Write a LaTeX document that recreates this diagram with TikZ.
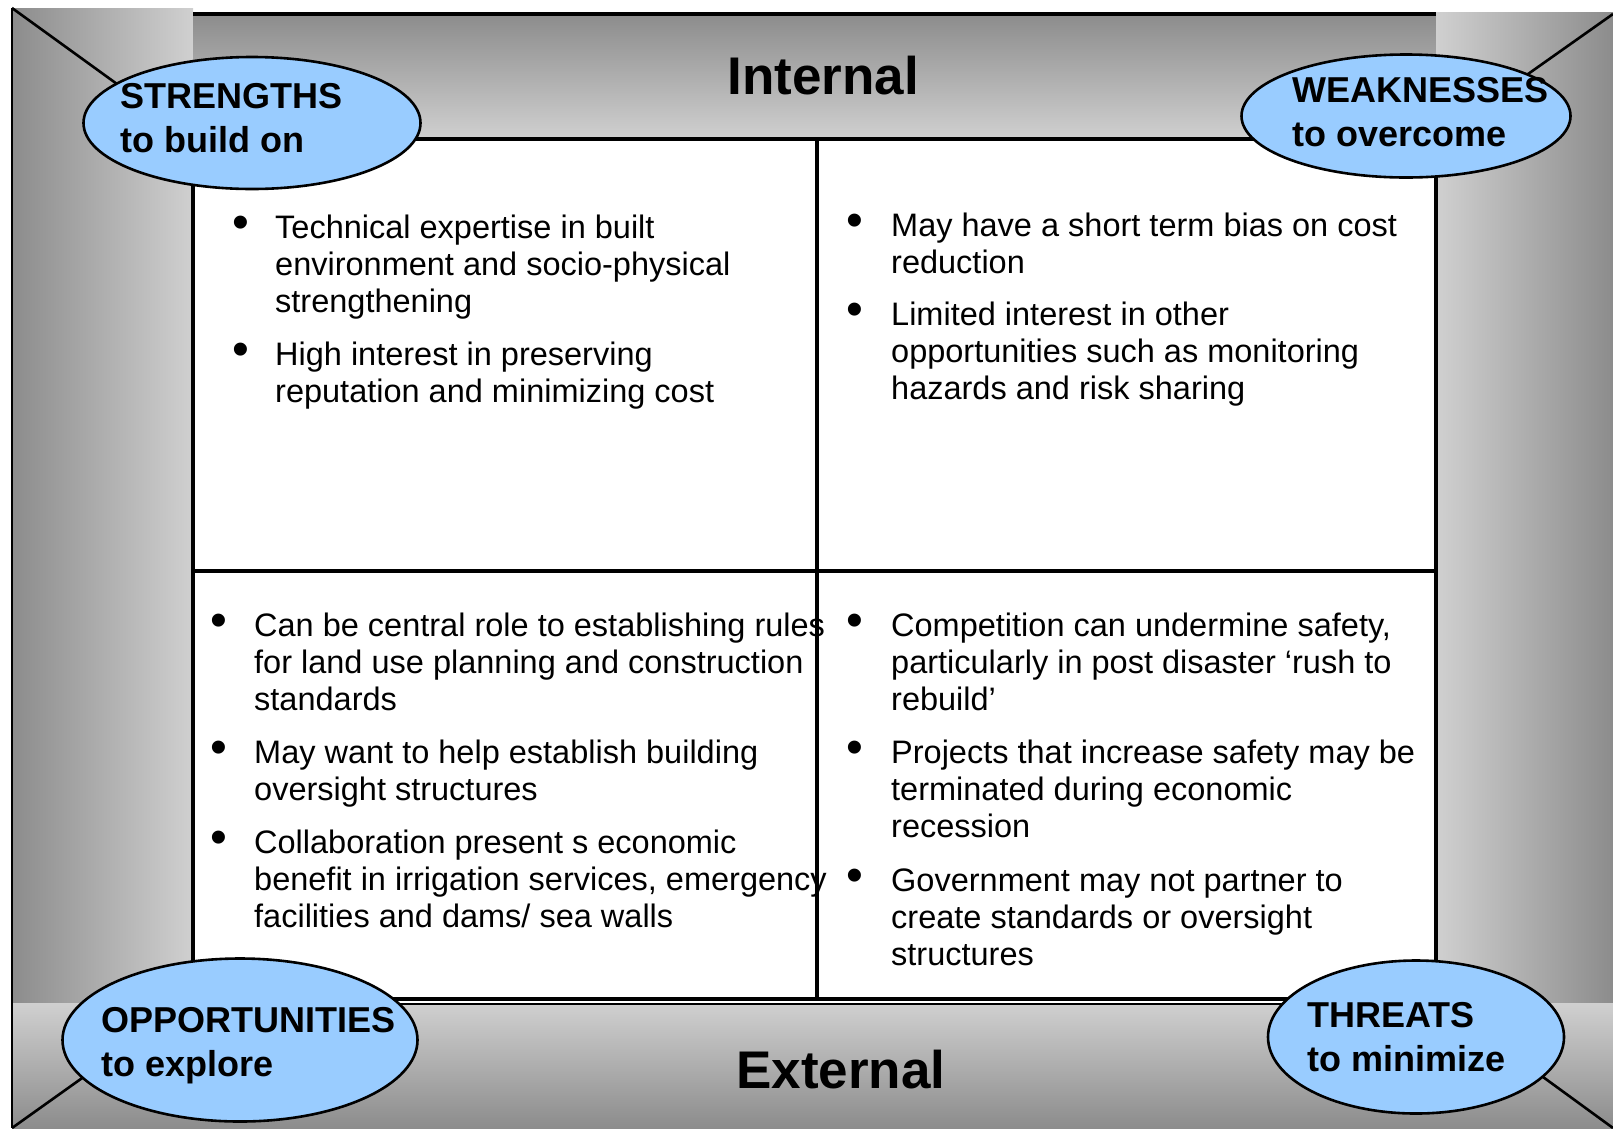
\documentclass[tikz,border=0pt]{standalone}
\usepackage{fontspec}
\setmainfont{Liberation Sans}
\usetikzlibrary{shapes.geometric}
\definecolor{pdark}{HTML}{8C8C8C}
\definecolor{plight}{HTML}{D0D0D0}
\definecolor{ovalblue}{HTML}{99CCFF}
\tikzset{
  bodytext/.style={anchor=base west, inner sep=0pt, font=\fontsize{32.5}{37.3}\selectfont},
  bulletdot/.style={anchor=base, inner sep=0pt, font=\fontsize{48}{50}\selectfont},
  labeltext/.style={anchor=base west, inner sep=0pt, font=\fontsize{36}{44}\selectfont\bfseries},
  ovalshape/.style={ellipse, draw=black, line width=2.6pt, fill=ovalblue, inner sep=0pt},
  headtext/.style={anchor=base, inner sep=0pt, font=\fontsize{53}{60}\selectfont\bfseries},
  rim/.style={line width=3.4pt, draw=black},
}
\newcommand{\lines}[1]{\parbox[t]{700pt}{\raggedright #1}}
\begin{document}
\begin{tikzpicture}[x=1pt,y=-1pt]
\useasboundingbox (0,0) rectangle (1613,1128);
% frame panels
\shade[left color=pdark, right color=plight] (12,8) rectangle (193,1003);
\shade[top color=pdark, bottom color=plight] (193,14) rectangle (1436,139);
\shade[left color=plight, right color=pdark] (1436,12) rectangle (1613,1003);
\shade[top color=plight, bottom color=pdark] (12,1003) rectangle (1613,1128);
% corner coordinates
\coordinate (otl) at (12,8);
\coordinate (otr) at (1613,14);
\coordinate (obl) at (12,1128);
\coordinate (obr) at (1613,1128);
\coordinate (itl) at (193,139);
\coordinate (itr) at (1436,139);
\coordinate (ibl) at (193,999);
\coordinate (ibr) at (1436,999);
\coordinate (ttl) at (193,14);
\coordinate (ttr) at (1436,14);
\coordinate (mt) at (817,139);
\coordinate (mb) at (817,999);
\coordinate (ml) at (193,571);
\coordinate (mr) at (1436,571);
\coordinate (dbl) at (193,1003.5);
\coordinate (dbr) at (1436,1003.5);
% borders
\draw[rim, line width=2.4pt] (otl) -- (obl);
\draw[rim] (ttl) -- (ttr);
\draw[rim, fill=white] (itl) rectangle (ibr);
\draw[rim, line width=2pt] (dbl) -- (dbr);
\draw[rim] (mt) -- (mb);
\draw[rim] (ml) -- (mr);
% diagonals
\draw[rim, line width=2.6pt] (otl) -- (itl);
\draw[rim, line width=2.6pt] (otr) -- (itr);
\draw[rim, line width=2.6pt] (obl) -- (ibl);
\draw[rim, line width=2.6pt] (obr) -- (ibr);
% headings
\node[headtext] (internal) at (823,94) {Internal};
\node[headtext] (external) at (841,1088) {External};
% ovals
\node[ovalshape, minimum width=337pt, minimum height=132pt] (sov) at (252,123) {};
\node[ovalshape, minimum width=329pt, minimum height=123pt] (wov) at (1406,116) {};
\node[ovalshape, minimum width=355pt, minimum height=163pt] (oov) at (240,1040) {};
\node[ovalshape, minimum width=296pt, minimum height=153pt] (tov) at (1416,1037) {};
\node[labeltext] (slab) at (120,108) {\lines{STRENGTHS\\to build on}};
\node[labeltext] (wlab) at (1292,102) {\lines{WEAKNESSES\\to overcome}};
\node[labeltext] (olab) at (101,1032) {\lines{OPPORTUNITIES\\to explore}};
\node[labeltext] (tlab) at (1307,1027) {\lines{THREATS\\to minimize}};
% strengths
\node[bulletdot] (sb1) at (240.7,238) {•};
\node[bodytext] (st1) at (275,238) {\lines{Technical expertise in built\\environment and socio-physical\\strengthening}};
\node[bulletdot] (sb2) at (240.7,365) {•};
\node[bodytext] (st2) at (275,365) {\lines{High interest in preserving\\reputation and minimizing cost}};
% weaknesses
\node[bulletdot] (wb1) at (855,236) {•};
\node[bodytext] (wt1) at (891,236) {\lines{May have a short term bias on cost\\reduction}};
\node[bulletdot] (wb2) at (855,325) {•};
\node[bodytext] (wt2) at (891,325) {\lines{Limited interest in other\\opportunities such as monitoring\\hazards and risk sharing}};
% opportunities
\node[bulletdot] (ob1) at (219,636) {•};
\node[bodytext] (ot1) at (254,636) {\lines{Can be central role to establishing rules\\for land use planning and construction\\standards}};
\node[bulletdot] (ob2) at (219,763) {•};
\node[bodytext] (ot2) at (254,763) {\lines{May want to help establish building\\oversight structures}};
\node[bulletdot] (ob3) at (219,853) {•};
\node[bodytext] (ot3) at (254,853) {\lines{Collaboration present s economic\\benefit in irrigation services, emergency\\facilities and dams/ sea walls}};
% threats
\node[bulletdot] (tb1) at (855,636) {•};
\node[bodytext] (tt1) at (891,636) {\lines{Competition can undermine safety,\\particularly in post disaster ‘rush to\\rebuild’}};
\node[bulletdot] (tb2) at (855,763) {•};
\node[bodytext] (tt2) at (891,763) {\lines{Projects that increase safety may be\\terminated during economic\\recession}};
\node[bulletdot] (tb3) at (855,891) {•};
\node[bodytext] (tt3) at (891,891) {\lines{Government may not partner to\\create standards or oversight\\structures}};
\end{tikzpicture}
\end{document}
